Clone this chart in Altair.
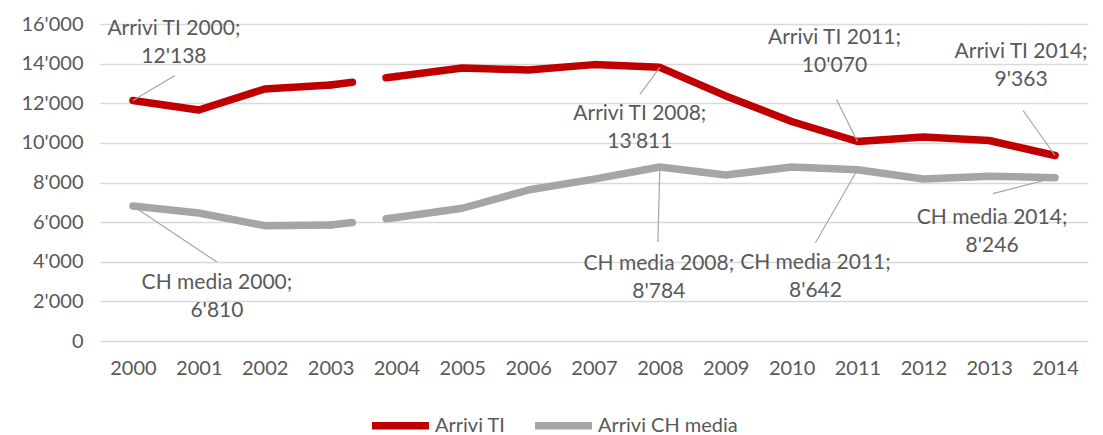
import altair as alt
import pandas as pd

# ---- data ----
years = [2000, 2001, 2002, 2003, 2004, 2005, 2006, 2007, 2008, 2009, 2010, 2011, 2012, 2013, 2014]
arrivi_ti = [12138, 11660, 12720, 12920, 13350, 13780, 13680, 13950, 13811, 12370, 11080, 10070, 10300, 10120, 9363]
arrivi_ch = [6810, 6460, 5820, 5860, 6230, 6700, 7620, 8170, 8784, 8380, 8780, 8642, 8180, 8320, 8246]
series_names = ["Arrivi TI", "Arrivi CH media"]
label_prefix = {"Arrivi TI": "Arrivi TI", "Arrivi CH media": "CH media"}
y_ticks = [0, 2000, 4000, 6000, 8000, 10000, 12000, 14000, 16000]

# annotated points
ann_series = ["Arrivi TI", "Arrivi CH media", "Arrivi TI", "Arrivi CH media",
              "Arrivi TI", "Arrivi CH media", "Arrivi TI", "Arrivi CH media"]
ann_years = [2000, 2000, 2008, 2008, 2011, 2011, 2014, 2014]

# ---- style / layout ----
W, H = 988, 317
X_DOMAIN = [1999.5, 2014.5]
Y_DOMAIN = [0, 16000]
COLORS = ["#C00000", "#A5A5A5"]
TEXT_COLOR = "#595959"
FONT = "Lato"
LW = 7.5
# label offsets (px, first-line centre) and leader-end offsets (px) relative to the point
ann_label_off = [(41, -72), (84, 77), (-20, 47), (-1, 97), (-23, -103), (-42, 93), (-34, -103), (-63, 40)]
ann_leader_off = [(42, -25), (84, 56), (-20, 27), (-2, 75), (-21, -42), (-42, 73), (-32, -45), (-62, 16)]

px_per_year = W / (X_DOMAIN[1] - X_DOMAIN[0])
px_per_val = H / (Y_DOMAIN[1] - Y_DOMAIN[0])

values = {"Arrivi TI": arrivi_ti, "Arrivi CH media": arrivi_ch}

rows = []
for s in series_names:
    for yr, v in zip(years, values[s]):
        rows.append({"series": s, "year": yr, "value": v,
                     "segment": s + ("_a" if yr <= 2003 else "_b")})
df = pd.DataFrame(rows)

x_scale = alt.Scale(domain=X_DOMAIN, nice=False, zero=False)
y_scale = alt.Scale(domain=Y_DOMAIN, nice=False)
color_scale = alt.Scale(domain=series_names, range=COLORS)

x_axis = alt.Axis(values=years, format="d", grid=False, ticks=False, domain=False,
                  labelFontSize=20, labelColor=TEXT_COLOR, labelFont=FONT,
                  labelPadding=17, labelOverlap=False, title=None)
y_axis = alt.Axis(values=y_ticks, grid=True, gridColor="#D9D9D9", gridWidth=1.3,
                  ticks=False, domain=False, labelOverlap=False,
                  labelExpr="replace(format(datum.value, ','), ',', \"'\")",
                  labelFontSize=20, labelColor=TEXT_COLOR, labelFont=FONT,
                  labelPadding=17, title=None)
x_enc = alt.X("year:Q", scale=x_scale, axis=x_axis, title=None)
y_enc = alt.Y("value:Q", scale=y_scale, axis=y_axis, title=None)

main = alt.Chart(df).mark_line(strokeWidth=LW, strokeCap="round", strokeJoin="round").encode(
    x=x_enc, y=y_enc,
    color=alt.Color("series:N", scale=color_scale, sort=series_names,
                    legend=alt.Legend(title=None, orient="none", direction="horizontal",
                                      legendX=268, legendY=369,
                                      symbolType="stroke", symbolSize=3249,
                                      symbolStrokeWidth=LW, labelFontSize=20,
                                      labelColor=TEXT_COLOR, labelFont=FONT,
                                      labelOffset=2, columnPadding=14)),
    detail="segment:N",
)

layers = [main]
# broken connection between 2003 and 2004
for s, c in zip(series_names, COLORS):
    bdf = df[(df.series == s) & (df.year.isin([2003, 2004]))]
    layers.append(alt.Chart(bdf).mark_line(strokeWidth=LW, strokeCap="round", color=c,
                                           strokeDash=[22, 34, 300]).encode(
        x=x_enc, y=y_enc))

def fmt(v):
    return f"{v:,}".replace(",", "'")

for s, yr, (ldx, ldy), (rdx, rdy) in zip(ann_series, ann_years, ann_label_off, ann_leader_off):
    v = values[s][years.index(yr)]
    adf = pd.DataFrame([{"year": yr, "value": v,
                         "year2": yr + rdx / px_per_year,
                         "value2": v - rdy / px_per_val,
                         "label": f"{label_prefix[s]} {yr};\n{fmt(v)}"}])
    layers.append(alt.Chart(adf).mark_rule(color="#A6A6A6", strokeWidth=1.2).encode(
        x=x_enc, y=y_enc, x2="year2:Q", y2="value2:Q"))
    layers.append(alt.Chart(adf).mark_text(
        fontSize=21, font=FONT, color=TEXT_COLOR, align="center", baseline="middle",
        lineBreak="\n", lineHeight=28, dx=ldx, dy=ldy).encode(
        x=x_enc, y=y_enc, text="label:N"))

chart = alt.layer(*layers).properties(
    width=W, height=H,
    autosize=alt.AutoSizeParams(type="none"),
    padding={"left": 92, "top": 16, "right": 5, "bottom": 96},
).configure_view(stroke=None)

chart.save("out.html", embed_options={"renderer": "svg", "actions": False})
